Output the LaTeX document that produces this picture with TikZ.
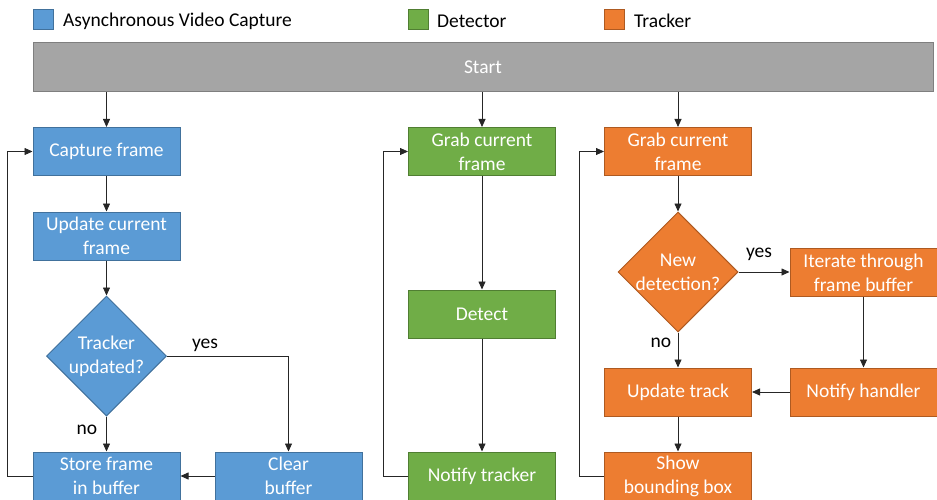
\documentclass[tikz,border=0pt]{standalone}
\usepackage{fontspec}
\setmainfont{Carlito}
\usetikzlibrary{shapes.geometric,arrows.meta}
\definecolor{capfill}{HTML}{5B9BD5}
\definecolor{capline}{HTML}{41719C}
\definecolor{detfill}{HTML}{70AD47}
\definecolor{detline}{HTML}{507E32}
\definecolor{trkfill}{HTML}{ED7D31}
\definecolor{trkline}{HTML}{AE5A21}
\definecolor{startfill}{HTML}{A5A5A5}
\definecolor{startline}{HTML}{7F7F7F}
\begin{document}
\begin{tikzpicture}[x=1pt,y=-1pt,
  txt/.style={font=\fontsize{19.5}{24}\selectfont},
  box/.style={txt, draw, line width=1pt, minimum width=147pt, minimum height=48pt,
    inner sep=0pt, text=white, align=center},
  capbox/.style={box, fill=capfill, draw=capline},
  detbox/.style={box, fill=detfill, draw=detline},
  trkbox/.style={box, fill=trkfill, draw=trkline},
  dia/.style={diamond, draw, line width=1pt, minimum width=120pt, minimum height=120pt,
    inner sep=0pt, aspect=1},
  diatext/.style={txt, text=white, align=center},
  swatch/.style={draw, line width=1pt, minimum size=20pt, inner sep=0pt},
  legtext/.style={txt, anchor=west, inner sep=0pt},
  lbl/.style={txt, inner sep=0pt},
  arr/.style={draw=black!85, line width=0.8pt, -{Triangle[length=8pt,width=7pt]}}]
\useasboundingbox (0,0) rectangle (937,500);

% legend
\node[swatch, fill=capfill, draw=capline] (lgA) at (43,20) {};
\node[legtext] (lgAt) at (63,21) {Asynchronous Video Capture};
\node[swatch, fill=detfill, draw=detline] (lgB) at (418,20) {};
\node[legtext] (lgBt) at (437,21) {Detector};
\node[swatch, fill=trkfill, draw=trkline] (lgC) at (614,20) {};
\node[legtext] (lgCt) at (634,21) {Tracker};

% start bar
\node[box, fill=startfill, draw=startline, minimum width=900pt, minimum height=49pt]
  (start) at (483,67.5) {Start};

% video capture column
\node[capbox] (capture) at (106.5,151.5) {Capture frame};
\node[capbox] (update) at (106.5,236) {Update current\\frame};
\node[dia, fill=capfill, draw=capline] (tupd) at (106.5,356) {};
\node[diatext] (tupdt) at (tupd) {Tracker\\updated?};
\node[capbox] (store) at (106.5,476) {Store frame\\in buffer};
\node[capbox] (clear) at (288.5,476) {Clear\\buffer};

% detector column
\node[detbox] (grabD) at (482,151.5) {Grab current\\frame};
\node[detbox] (detect) at (482,314) {Detect};
\node[detbox] (notifyT) at (482,476) {Notify tracker};

% tracker column
\node[trkbox] (grabT) at (678,151.5) {Grab current\\frame};
\node[dia, fill=trkfill, draw=trkline] (newdet) at (678,272) {};
\node[diatext] (newdett) at (newdet) {New\\detection?};
\node[trkbox] (iter) at (863.5,272.5) {Iterate through\\frame buffer};
\node[trkbox] (utrack) at (678,392) {Update track};
\node[trkbox] (notifyH) at (863.5,392) {Notify handler};
\node[trkbox] (show) at (678,476) {Show\\bounding box};

% branch labels
\node[lbl] (yesA) at (205,345) {yes};
\node[lbl] (noA) at (87,430) {no};
\node[lbl] (yesB) at (759,254) {yes};
\node[lbl] (noB) at (661,343) {no};

% video capture flow
\draw[arr] (start.south -| capture.north) -- (capture.north);
\draw[arr] (capture) -- (update);
\draw[arr] (update) -- (tupd.north);
\draw[arr] (tupd.south) -- (store.north);
\draw[arr] (tupd.east) -| (clear.north);
\draw[arr] (clear) -- (store);
\draw[arr] (store.west) -- ++(-25,0) |- (capture.west);

% detector flow
\draw[arr] (start.south -| grabD.north) -- (grabD.north);
\draw[arr] (grabD) -- (detect);
\draw[arr] (detect) -- (notifyT);
\draw[arr] (notifyT.west) -- ++(-25,0) |- (grabD.west);

% tracker flow
\draw[arr] (start.south -| grabT.north) -- (grabT.north);
\draw[arr] (grabT) -- (newdet.north);
\draw[arr] (newdet.east) -- (newdet.east -| iter.west);
\draw[arr] (newdet.south) -- (utrack.north);
\draw[arr] (iter) -- (notifyH);
\draw[arr] (notifyH) -- (utrack);
\draw[arr] (utrack) -- (show);
\draw[arr] (show.west) -- ++(-25,0) |- (grabT.west);
\end{tikzpicture}
\end{document}
